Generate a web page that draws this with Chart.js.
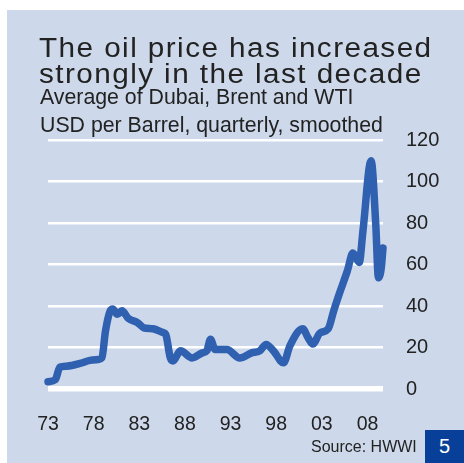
<!DOCTYPE html>
<html>
<head>
<meta charset="utf-8">
<script src="https://cdn.jsdelivr.net/npm/chart.js@4"></script>
<style>
    html, body { margin: 0; padding: 0; background: #fff; }
    #wrap { position: relative; width: 464px; height: 463px; overflow: hidden; }
    #panel { position: absolute; left: 7px; top: 10px; right: 0; bottom: 0; background: #cdd9ea; }
    canvas { position: absolute; left: 0; top: 0; }
    .txt { position: absolute; font-family: "Liberation Sans", Arial, sans-serif; color: #222; white-space: nowrap; }
    #title { left: 39px; top: 35px; font-size: 27px; line-height: 26px; letter-spacing: 1.3px;
             transform: scaleX(1.1); transform-origin: left top; }
    #sub { left: 40px; top: 83px; font-size: 21.3px; line-height: 28px; }
    #source { left: 311px; top: 438px; font-size: 16px; }
    #page { left: 425px; top: 430px; width: 39px; height: 33px; background: #073f99; color: #fff;
            font-size: 20px; line-height: 33px; text-align: center; }
</style>
</head>
<body>
<div id="wrap">
    <div id="panel"></div>
    <canvas id="chart" width="464" height="463"></canvas>
    <div class="txt" id="title">The oil price has increased<br>strongly in the last decade</div>
    <div class="txt" id="sub">Average of Dubai, Brent and WTI<br>USD per Barrel, quarterly, smoothed</div>
    <div class="txt" id="source">Source: HWWI</div>
    <div class="txt" id="page">5</div>
</div>
<script>
// (year, USD per barrel)
const years = [
    1973.0, 1973.8, 1974.3, 1975.0, 1975.6, 1976.5, 1977.6, 1978.5, 1978.9, 1979.3,
    1979.8, 1980.1, 1980.6, 1981.1, 1981.8, 1982.8, 1983.5, 1984.5, 1985.6, 1985.9,
    1986.4, 1986.7, 1987.5, 1988.8, 1989.9, 1990.4, 1990.8, 1991.3, 1992.6, 1994.0,
    1995.3, 1996.2, 1996.9, 1997.7, 1998.8, 1999.5, 2000.9, 2001.5, 2002.0, 2002.8,
    2003.7, 2004.3, 2005.0, 2005.8, 2006.4, 2007.1, 2007.5, 2008.4, 2008.9, 2009.2,
    2009.5, 2009.7
]
const prices = [
    3.5, 4.5, 10.5, 11, 11.3, 12.3, 13.8, 14.2, 15, 28,
    37.5, 38.6, 36, 37.7, 34, 32, 29.5, 29, 27.2, 26.3,
    15, 13.5, 18.4, 15, 17.4, 18.4, 24, 19, 19, 15,
    17.4, 18.4, 21.5, 18.4, 12.6, 20.8, 29, 24.6, 21.7, 27,
    29, 37.7, 47, 57, 65.5, 61, 76, 110, 80, 53.6,
    58, 68
]
const xTicks = [1973, 1978, 1983, 1988, 1993, 1998, 2003, 2008]
const yTicks = [0, 20, 40, 60, 80, 100, 120]

const points = years.map((y, i) => ({ x: y, y: prices[i] }))

const chart = new Chart(document.getElementById('chart').getContext('2d'), {
    type: 'line',
    data: {
        datasets: [{
            data: points,
            borderColor: '#3060b0',
            borderWidth: 7.5,
            borderCapStyle: 'round',
            borderJoinStyle: 'round',
            pointRadius: 0,
            cubicInterpolationMode: 'monotone',
            clip: false
        }]
    },
    options: {
        responsive: false,
        animation: false,
        events: [],
        layout: { padding: { left: 48, top: 140, right: 0, bottom: 0 } },
        plugins: { legend: { display: false }, tooltip: { enabled: false } },
        scales: {
            x: {
                type: 'linear',
                min: 1973,
                max: 2009.7,
                afterBuildTicks: scale => { scale.ticks = xTicks.map(v => ({ value: v })) },
                afterFit: scale => { scale.height = 74 },
                border: { display: false },
                grid: { display: false },
                ticks: {
                    color: '#222',
                    padding: 16,
                    maxRotation: 0,
                    autoSkip: false,
                    font: { family: 'Liberation Sans', size: 19.5 },
                    callback: v => String(v).slice(2)
                }
            },
            y: {
                position: 'right',
                min: 0,
                max: 120,
                afterBuildTicks: scale => { scale.ticks = yTicks.map(v => ({ value: v })) },
                afterFit: scale => { scale.width = 81 },
                border: { display: false },
                grid: {
                    color: '#ffffff',
                    lineWidth: ctx => ctx.tick && ctx.tick.value === 0 ? 5.5 : 2.5,
                    drawTicks: false
                },
                ticks: {
                    color: '#222',
                    padding: 23,
                    font: { family: 'Liberation Sans', size: 20 }
                }
            }
        }
    }
})
</script>
</body>
</html>
